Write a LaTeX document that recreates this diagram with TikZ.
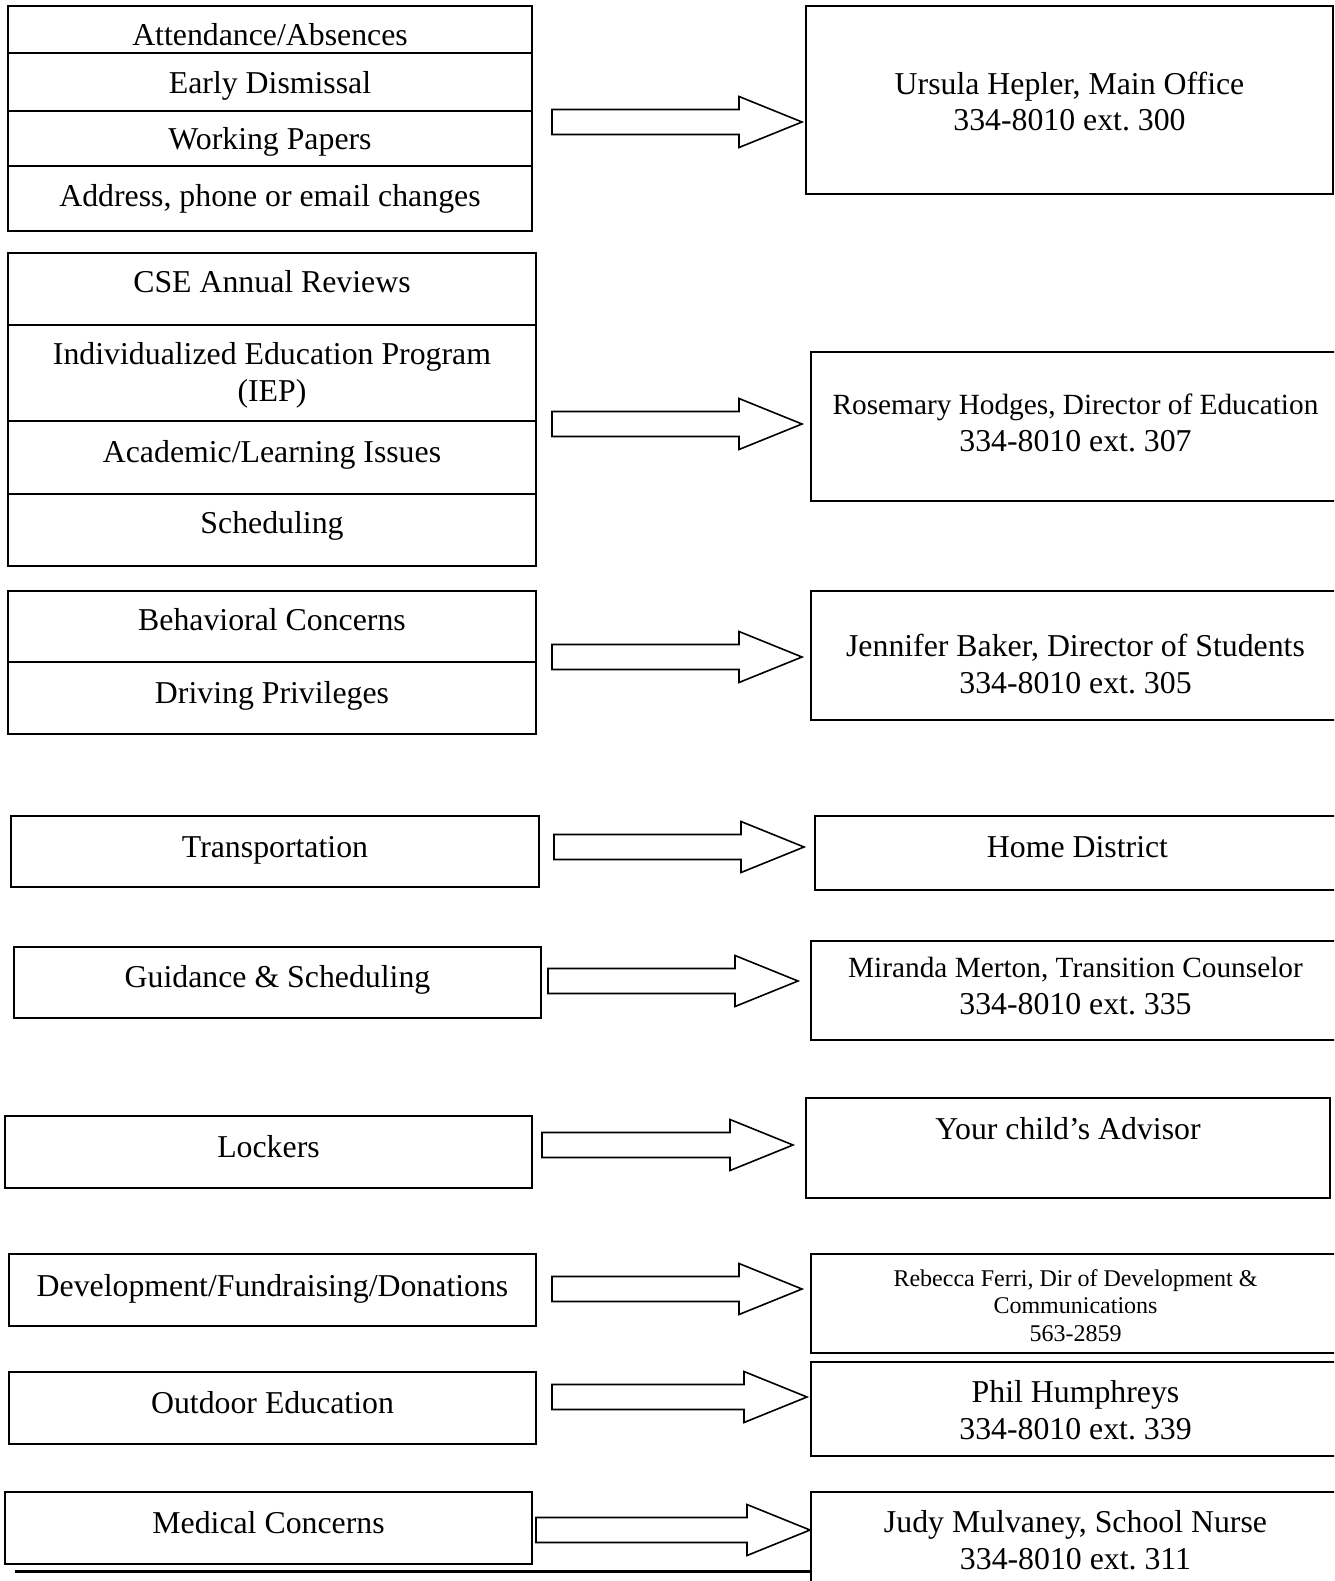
\documentclass[tikz,border=0pt]{standalone}
\usepackage{fontspec}
\setmainfont{Liberation Serif}
\usetikzlibrary{positioning,calc}
\frenchspacing

\newcommand\bodysize{\fontsize{31.8}{36.4}\selectfont}
\newcommand\namesize{\fontsize{29.3}{33.6}\selectfont}
\newcommand\smallsize{\fontsize{24}{27.2}\selectfont}

\begin{document}
\begin{tikzpicture}[x=1pt,y=-1pt]
    \tikzstyle{cell}=[rectangle,draw,line width=1.6pt,anchor=north west,inner sep=0pt,outer sep=0pt,align=center,font=\bodysize]
    \tikzstyle{fat}=[line width=1.6pt,to path={let \p1=(\tikztostart),\p2=(\tikztotarget) in
        (\x1,\y1+12.5pt) -- (\x2-63pt,\y1+12.5pt) -- (\x2-63pt,\y1+25.5pt) -- (\x2,\y1)
        -- (\x2-63pt,\y1-25.5pt) -- (\x2-63pt,\y1-12.5pt) -- (\x1,\y1-12.5pt) -- cycle}]

    \useasboundingbox (0,0) rectangle (1334,1581);
    \clip (0,0) rectangle (1334,1581);

    % topics
    \node[cell,minimum width=524pt,text height=40pt,text depth=7pt]  (att)   at (8,6)   {Attendance/Absences};
    \node[cell,minimum width=524pt,text height=41pt,text depth=17pt] (early) at (8,53)  {Early Dismissal};
    \node[cell,minimum width=524pt,text height=39pt,text depth=16pt] (work)  at (8,111) {Working Papers};
    \node[cell,minimum width=524pt,text height=41pt,text depth=24pt] (addr)  at (8,166) {Address, phone or email changes};

    \node[cell,minimum width=528pt,text height=39pt,text depth=33pt] (cse)   at (8,253) {CSE Annual Reviews};
    \node[cell,minimum width=528pt,text height=76pt,text depth=20pt] (iep)   at (8,325) {Individualized Education Program\\(IEP)};
    \node[cell,minimum width=528pt,text height=41pt,text depth=32pt] (acad)  at (8,421) {Academic/Learning Issues};
    \node[cell,minimum width=528pt,text height=39pt,text depth=33pt] (sched) at (8,494) {Scheduling};

    \node[cell,minimum width=528pt,text height=39pt,text depth=32pt] (behav) at (8,591) {Behavioral Concerns};
    \node[cell,minimum width=528pt,text height=41pt,text depth=31pt] (drive) at (8,662) {Driving Privileges};

    \node[cell,minimum width=528pt,text height=41pt,text depth=30pt] (trans) at (11,816)  {Transportation};
    \node[cell,minimum width=527pt,text height=40pt,text depth=31pt] (guid)  at (14,947)  {Guidance \& Scheduling};
    \node[cell,minimum width=527pt,text height=41pt,text depth=31pt] (lock)  at (5,1116)  {Lockers};
    \node[cell,minimum width=527pt,text height=42pt,text depth=30pt] (dev)   at (9,1254)  {Development/Fundraising/Donations};
    \node[cell,minimum width=527pt,text height=41pt,text depth=31pt] (outd)  at (9,1372)  {Outdoor Education};
    \node[cell,minimum width=527pt,text height=41pt,text depth=31pt] (med)   at (5,1492)  {Medical Concerns};

    % contacts
    \node[cell,minimum width=527pt,text height=125pt,text depth=63pt] (r1) at (806,6)    {Ursula Hepler, Main Office\\334-8010 ext. 300};
    \node[cell,minimum width=529pt,text height=99pt,text depth=50pt]  (r2) at (811,352)  {{\namesize Rosemary Hodges, Director of Education}\\334-8010 ext. 307};
    \node[cell,minimum width=529pt,text height=102pt,text depth=27pt] (r3) at (811,591)  {Jennifer Baker, Director of Students\\334-8010 ext. 305};
    \node[cell,minimum width=525pt,text height=41pt,text depth=33pt]  (r4) at (815,816)  {Home District};
    \node[cell,minimum width=529pt,text height=73pt,text depth=26pt]  (r5) at (811,941)  {{\namesize Miranda Merton, Transition Counselor}\\334-8010 ext. 335};
    \node[cell,minimum width=524pt,text height=41pt,text depth=59pt]  (r6) at (806,1098) {Your child’s Advisor};
    \node[cell,minimum width=529pt,text height=87pt,text depth=12pt,font=\smallsize] (r7) at (811,1254) {Rebecca Ferri, Dir of Development \&\\Communications\\563-2859};
    \node[cell,minimum width=529pt,text height=77pt,text depth=17pt]  (r8) at (811,1362) {Phil Humphreys\\334-8010 ext. 339};
    \node[cell,minimum width=529pt,text height=77pt,text depth=43pt]  (r9) at (811,1492) {Judy Mulvaney, School Nurse\\334-8010 ext. 311};

    \coordinate (a1) at (552,122);
    \coordinate (a2) at (552,424);
    \coordinate (a3) at (552,657);
    \coordinate (a4) at (554,847);
    \coordinate (a5) at (548,981);
    \coordinate (a6) at (542,1145);
    \coordinate (a7) at (552,1289);
    \coordinate (a8) at (552,1397);
    \coordinate (a9) at (536,1530);
    \coordinate (foot) at (15,1571);

    \draw[fat] (a1) to ([xshift=-4pt]r1.west |- a1);
    \draw[fat] (a2) to ([xshift=-9pt]r2.west |- a2);
    \draw[fat] (a3) to ([xshift=-9pt]r3.west |- a3);
    \draw[fat] (a4) to ([xshift=-11pt]r4.west |- a4);
    \draw[fat] (a5) to ([xshift=-13pt]r5.west |- a5);
    \draw[fat] (a6) to ([xshift=-13pt]r6.west |- a6);
    \draw[fat] (a7) to ([xshift=-9pt]r7.west |- a7);
    \draw[fat] (a8) to ([xshift=-4pt]r8.west |- a8);
    \draw[fat] (a9) to ([xshift=-1pt]r9.west |- a9);

    \draw[line width=3pt] (foot) -- (r9.west |- foot);
\end{tikzpicture}
\end{document}
